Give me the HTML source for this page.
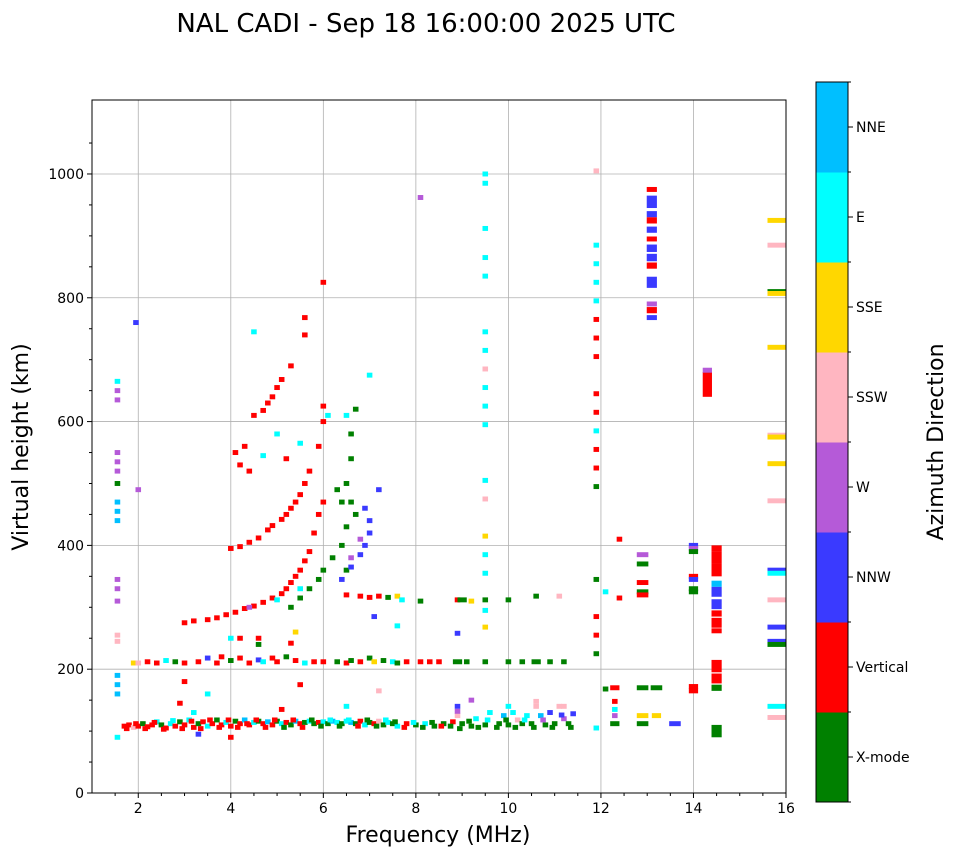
<!DOCTYPE html>
<html><head><meta charset="utf-8"><style>
body{margin:0;background:#fff;font-family:"Liberation Sans","DejaVu Sans",sans-serif}
svg text{font-family:"DejaVu Sans","Liberation Sans",sans-serif}
</style></head><body>
<svg id="chart" width="958" height="857" xmlns="http://www.w3.org/2000/svg">
<text x="426" y="32" font-size="26" text-anchor="middle">NAL CADI - Sep 18 16:00:00 2025 UTC</text>
<g id="grid"></g>
<g id="marks"></g>
<rect x="92" y="100" width="694" height="693" fill="none" stroke="#000" stroke-width="1"/>
<g id="axes"></g>
<text x="438" y="842" font-size="22" text-anchor="middle">Frequency (MHz)</text>
<text transform="translate(28,447) rotate(-90)" font-size="22" text-anchor="middle">Virtual height (km)</text>
<g id="cbar"></g>
<text transform="translate(943,442) rotate(-90)" font-size="22" text-anchor="middle">Azimuth Direction</text>
</svg>
<script>
const xTicks=[2,4,6,8,10,12,14,16];
const yTicks=[0,200,400,600,800,1000];
const dirNames=["X-mode","Vertical","NNW","W","SSW","SSE","E","NNE"];
const dirColors=["#008000","#ff0000","#3a3aff","#b55ad8","#ffb6c1","#ffd700","#00ffff","#00bfff"];
const echoData="1.7,108,1;1.8,110,1;1.9,106,4;2.0,108,1;2.1,112,0;2.2,107,1;2.3,110,1;2.4,115,6;2.5,110,0;2.6,105,1;2.7,112,6;2.8,108,1;2.9,115,0;3.0,110,1;3.1,118,6;3.2,106,1;3.3,112,0;3.4,115,1;3.5,108,6;3.6,112,1;3.7,118,0;3.8,110,1;3.9,114,6;4.0,108,1;4.1,116,0;4.2,112,1;4.3,118,7;4.4,110,1;4.5,114,6;4.6,116,0;4.7,112,1;4.8,115,7;4.9,110,1;5.0,116,0;5.1,112,6;5.2,114,1;5.3,110,0;5.4,116,7;5.5,112,1;5.6,114,0;5.7,116,6;5.8,112,0;5.9,114,1;6.0,115,6;6.1,112,0;6.2,116,7;6.3,114,6;6.4,112,0;6.5,116,6;6.6,114,7;6.7,112,0;6.8,116,1;6.9,110,6;7.0,114,0;7.1,112,1;7.2,116,4;7.3,110,0;7.4,114,6;7.5,112,0;7.6,108,6;7.8,112,1;8.0,110,0;8.2,112,6;8.4,108,0;8.6,112,0;8.8,115,1;8.9,125,4;9.0,112,0;9.2,108,0;9.3,120,6;9.5,110,0;9.6,130,6;9.8,112,0;9.9,125,7;10.0,110,0;10.1,130,6;10.2,118,4;10.3,112,0;10.4,125,6;10.5,112,0;10.6,140,4;10.7,125,7;10.8,110,0;10.9,130,2;11.0,112,0;11.1,140,4;11.2,120,3;11.3,112,0;11.4,128,2;"+
"1.75,104,1;1.95,112,1;2.15,104,1;2.35,114,1;2.55,103,1;2.75,117,6;2.95,104,1;3.15,116,1;3.35,104,1;3.55,118,1;3.75,106,1;3.95,118,1;4.15,106,1;4.35,112,1;4.55,118,1;4.75,106,1;4.95,118,1;5.15,106,0;5.35,118,1;5.55,106,1;5.75,118,0;5.95,108,0;6.15,118,6;6.35,108,0;6.55,118,6;6.75,108,1;6.95,118,0;7.15,108,0;7.35,118,6;7.55,115,0;7.75,106,1;7.95,114,6;8.15,106,0;8.35,114,0;8.55,108,1;8.75,108,0;8.95,104,0;9.15,116,0;9.35,106,0;9.55,118,6;9.75,106,0;9.95,118,0;10.15,106,0;10.35,118,6;10.55,106,0;10.75,118,3;10.95,106,0;11.15,126,2;11.35,106,0;"+
"2.9,145,1;3.0,180,1;3.2,130,6;3.5,160,6;4.0,90,1;3.3,95,2;5.1,135,1;5.5,175,1;6.5,140,6;7.2,165,4;8.9,140,2;8.9,132,3;9.2,150,3;10.0,140,6;10.6,148,4;11.2,140,4;11.9,105,6;"+
"1.9,210,5;2.0,210,4;2.2,212,1;2.4,210,1;2.6,214,6;2.8,212,0;3.0,210,1;3.3,212,1;3.5,218,2;3.7,210,1;3.8,220,1;4.0,214,0;4.2,218,1;4.4,210,1;4.6,215,2;4.7,212,6;4.9,218,1;5.0,212,1;5.2,220,0;5.4,214,1;5.6,210,6;5.8,212,1;6.0,212,1;6.3,212,0;6.5,210,1;6.6,214,0;6.8,212,1;7.0,218,0;7.1,212,5;7.3,214,0;7.5,212,6;7.6,210,0;7.8,212,1;8.1,212,1;8.3,212,1;8.5,212,1;8.9,212,0,0.2;9.1,212,0;9.5,212,0;10.0,212,0;10.3,212,0;10.6,212,0,0.2;10.9,212,0;11.2,212,0;4.0,250,6;4.2,250,1;4.6,250,1;4.6,240,0;5.3,242,1;5.4,260,5;"+
"3.0,275,1;3.2,278,1;3.5,280,1;3.7,283,1;3.9,288,1;4.1,292,1;4.3,298,1;4.5,302,1;4.7,308,1;4.9,315,1;5.1,322,1;5.2,330,1;5.3,340,1;5.4,350,1;5.5,360,1;5.6,375,1;5.7,390,1;5.8,420,1;5.9,450,1;6.0,470,1;5.5,330,6;5.0,312,6;4.4,300,3;"+
"5.3,300,0;5.5,315,0;5.7,330,0;5.9,345,0;6.0,360,0;6.2,380,0;6.4,400,0;6.5,430,0;6.6,470,0;6.5,500,0;6.6,540,0;6.6,580,0;6.7,620,0;6.5,360,0;6.7,450,0;6.4,470,0;6.3,490,0;"+
"6.4,345,2;6.6,365,2;6.8,385,2;6.9,400,2;7.0,420,2;7.0,440,2;6.9,460,2;6.6,380,3;6.8,410,3;"+
"4.0,395,1;4.2,398,1;4.4,405,1;4.6,412,1;4.8,425,1;4.9,432,1;5.1,442,1;5.2,450,1;5.3,460,1;5.4,470,1;5.5,482,1;5.6,500,1;5.7,520,1;5.9,560,1;6.0,600,1;6.0,625,1;"+
"4.1,550,1;4.3,560,1;4.5,610,1;4.7,618,1;4.8,630,1;4.9,640,1;5.0,655,1;5.1,668,1;5.3,690,1;5.6,740,1;6.0,825,1;"+
"4.4,520,1;4.2,530,1;4.7,545,6;5.2,540,1;5.5,565,6;6.1,610,6;6.5,610,6;7.0,675,6;5.0,580,6;4.5,745,6;5.6,768,1;1.95,760,2;2.0,490,3;7.2,490,2;8.1,962,3;"+
"6.5,320,1;6.8,318,1;7.0,316,1;7.2,318,1;7.4,316,0;7.6,318,5;7.7,312,6;8.1,310,0;8.9,312,1;9.0,312,0,0.2;9.2,310,5;9.5,312,0;10.0,312,0;10.6,318,0;11.1,318,4;7.6,270,6;7.1,285,2;8.9,258,2;9.5,268,5;"+
"1.55,90,6;1.55,160,7;1.55,175,7;1.55,190,7;1.55,245,4;1.55,255,4;1.55,310,3;1.55,330,3;1.55,345,3;1.55,440,7;1.55,455,7;1.55,470,7;1.55,500,0;1.55,520,3;1.55,535,3;1.55,550,3;1.55,635,3;1.55,650,3;1.55,665,6;"+
"9.5,1000,6;9.5,985,6;9.5,912,6;9.5,865,6;9.5,835,6;9.5,745,6;9.5,715,6;9.5,685,4;9.5,655,6;9.5,625,6;9.5,595,6;9.5,505,6;9.5,475,4;9.5,415,5;9.5,385,6;9.5,355,6;9.5,295,6;"+
"11.9,1005,4;11.9,885,6;11.9,855,6;11.9,825,6;11.9,795,6;11.9,765,1;11.9,735,1;11.9,705,1;11.9,645,1;11.9,615,1;11.9,585,6;11.9,555,1;11.9,525,1;11.9,495,0;11.9,345,0;11.9,285,1;11.9,255,1;11.9,225,0;"+
"12.1,168,0;12.3,170,1,0.2;12.3,148,1;12.3,135,6;12.3,125,3;12.3,112,0,0.2;12.4,410,1;12.4,315,1;12.1,325,6;"+
"13.1,975,1,0.22;13.1,955,2,0.22,20;13.1,935,2,0.22,10;13.1,925,1,0.22,10;13.1,910,2,0.22,10;13.1,895,1,0.22,8;13.1,880,2,0.22,12;13.1,865,2,0.22,12;13.1,852,1,0.22,10;13.1,825,2,0.22,18;13.1,790,3,0.22;13.1,780,1,0.22,10;13.1,768,2,0.22;"+
"12.9,385,3,0.25;12.9,370,0,0.25;12.9,340,1,0.25;12.9,325,0,0.25;12.9,320,1,0.25;12.9,170,0,0.25;13.2,170,0,0.25;12.9,125,5,0.25;13.2,125,5,0.2;12.9,112,0,0.25;13.6,112,2,0.25;"+
"14.0,400,2,0.2;14.0,395,3,0.2;14.0,350,1,0.2;14.0,345,2,0.2;14.0,330,0,0.2;14.0,325,0,0.2;14.0,390,0,0.2;14.0,172,1,0.2;14.0,165,1,0.2;"+
"14.3,660,1,0.2,40;14.3,683,3,0.2;"+
"14.5,395,1,0.22,10;14.5,380,1,0.22,20;14.5,360,1,0.22,20;14.5,338,7,0.22,10;14.5,325,2,0.22,16;14.5,305,2,0.22,16;14.5,290,1,0.22,10;14.5,275,1,0.22,16;14.5,262,1,0.22,8;14.5,205,1,0.22,20;14.5,185,1,0.22,16;14.5,170,0,0.22,10;14.5,100,0,0.22,20;"+
"15.8,925,5,0.4;15.8,885,4,0.4;15.8,810,0,0.4;15.8,807,5,0.4;15.8,720,5,0.4;15.8,578,4,0.4;15.8,575,5,0.4;15.8,532,5,0.4;15.8,472,4,0.4;15.8,360,2,0.4;15.8,355,6,0.4;15.8,312,4,0.4;15.8,268,2,0.4;15.8,245,2,0.4;15.8,240,0,0.4;15.8,140,6,0.4;15.8,122,4,0.4";
const points=echoData.split(";").map(s=>s.split(",").map(Number));

const NS="http://www.w3.org/2000/svg";
const X0=92,X1=786,Y0=793,Y1=100,FMIN=1,FMAX=16,HMIN=0,HMAX=1119.5;
const xs=f=>X0+(f-FMIN)/(FMAX-FMIN)*(X1-X0);
const ys=h=>Y0-(h-HMIN)/(HMAX-HMIN)*(Y0-Y1);
function mk(tag,attrs,parent){const e=document.createElementNS(NS,tag);for(const k in attrs)e.setAttribute(k,attrs[k]);parent.appendChild(e);return e;}
const grid=document.getElementById('grid'),axes=document.getElementById('axes'),marks=document.getElementById('marks'),cbar=document.getElementById('cbar');
xTicks.forEach(t=>{const x=xs(t);
 const g=mk('line',{x1:x,x2:x,y1:Y1,y2:Y0,stroke:'#b0b0b0','stroke-width':0.8},grid);
 
 
 mk('line',{x1:x,x2:x,y1:Y0,y2:Y0+5,stroke:'#000'},axes);
 const tx=mk('text',{x:x,y:Y0+20,'font-size':14,'text-anchor':'middle'},axes);tx.textContent=t;
 
 
});
for(let f=1.5;f<16;f+=0.5){if(f%2===0)continue;const x=xs(f);mk('line',{x1:x,x2:x,y1:Y0,y2:Y0+3,stroke:'#000'},axes);}
yTicks.forEach(t=>{const y=ys(t);
 if(t>0){const g=mk('line',{x1:X0,x2:X1,y1:y,y2:y,stroke:'#b0b0b0','stroke-width':0.8},grid);
 
 }
 mk('line',{x1:X0-5,x2:X0,y1:y,y2:y,stroke:'#000'},axes);
 const tx=mk('text',{x:X0-8,y:y+5,'font-size':14,'text-anchor':'end'},axes);tx.textContent=t;
 
 
});
for(let h=50;h<1100;h+=50){if(h%200===0)continue;const y=ys(h);mk('line',{x1:X0-3,x2:X0,y1:y,y2:y,stroke:'#000'},axes);}
points.forEach(p=>{const [f,h,d]=p;const w=p[3]||0.12;const hh=p[4]||8;
 const r=mk('rect',{x:xs(f-w/2),y:ys(h+hh/2),width:(xs(w)-xs(0)),height:(ys(0)-ys(hh)),fill:dirColors[d]},marks);
 
 
});
const CX=816,CW=32,CT=82,CB=802,seg=(CB-CT)/dirNames.length;
dirNames.forEach((n,i)=>{const y=CB-(i+1)*seg;
 const r=mk('rect',{x:CX,y:y,width:CW,height:seg+0.5,fill:dirColors[i]},cbar);
 
 
 mk('line',{x1:CX+CW,x2:CX+CW+5,y1:y+seg/2,y2:y+seg/2,stroke:'#000'},cbar);
 const t=mk('text',{x:CX+CW+8,y:y+seg/2+5,'font-size':14},cbar);t.textContent=n;
 
 
});
for(let i=0;i<=dirNames.length;i++){const y=CB-i*seg;mk('line',{x1:CX+CW,x2:CX+CW+3,y1:y,y2:y,stroke:'#000'},cbar);}
mk('rect',{x:CX,y:CT,width:CW,height:CB-CT,fill:'none',stroke:'#000'},cbar);
</script>
</body></html>
